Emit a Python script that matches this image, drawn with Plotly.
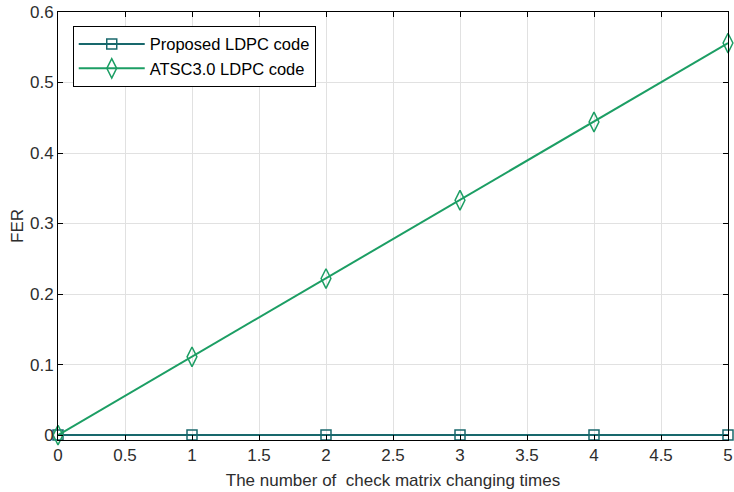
import plotly.graph_objects as go

x_times = [0, 1, 2, 3, 4, 5]
fer_proposed = [0, 0, 0, 0, 0, 0]
fer_atsc = [0, 0.111, 0.222, 0.333, 0.444, 0.556]
x_ticks = [0, 0.5, 1, 1.5, 2, 2.5, 3, 3.5, 4, 4.5, 5]
x_tick_labels = ["0", "0.5", "1", "1.5", "2", "2.5", "3", "3.5", "4", "4.5", "5"]
y_ticks = [0, 0.1, 0.2, 0.3, 0.4, 0.5, 0.6]
y_tick_labels = ["0", "0.1", "0.2", "0.3", "0.4", "0.5", "0.6"]

c_prop = "rgb(24,104,108)"
c_atsc = "rgb(28,158,100)"

fig = go.Figure()
fig.add_trace(go.Scatter(
    x=x_times, y=fer_proposed, mode="lines+markers", name="Proposed LDPC code",
    line=dict(color=c_prop, width=2),
    marker=dict(symbol="square-open", size=10, color=c_prop, line=dict(width=1.5)),
    cliponaxis=False,
))
fig.add_trace(go.Scatter(
    x=x_times, y=fer_atsc, mode="lines+markers", name="ATSC3.0 LDPC code",
    line=dict(color=c_atsc, width=2),
    marker=dict(symbol="diamond-tall-open", size=14, color=c_atsc, line=dict(width=1.5)),
    cliponaxis=False,
))

axis_common = dict(
    showline=True, linecolor="black", linewidth=1, mirror="ticks",
    ticks="inside", ticklen=5, tickcolor="black",
    showgrid=True, gridcolor="rgb(225,225,225)", gridwidth=1,
    zeroline=False, automargin=False,
    tickfont=dict(family="Liberation Sans, Arial, sans-serif", size=17, color="rgb(45,45,45)"),
)

fig.update_layout(
    width=734, height=492,
    margin=dict(l=58, r=6, t=12, b=52),
    paper_bgcolor="white", plot_bgcolor="white",
    font=dict(family="Liberation Sans, Arial, sans-serif", size=17, color="rgb(45,45,45)"),
    xaxis=dict(range=[0, 5], tickvals=x_ticks, ticktext=x_tick_labels,
               title=dict(text="The number of  check matrix changing times", standoff=9,
                          font=dict(size=17)), **axis_common),
    yaxis=dict(range=[-0.007, 0.6], tickvals=y_ticks, ticktext=y_tick_labels,
               title=dict(text="FER", standoff=2, font=dict(size=17)), **axis_common),
    legend=dict(x=0.022, y=0.968, xanchor="left", yanchor="top",
                bordercolor="black", borderwidth=1, bgcolor="white",
                font=dict(size=16.5, color="black"), tracegroupgap=0, itemwidth=66),
    showlegend=True,
)

fig.write_html("out.html", config={"displayModeBar": False},
               post_script="document.body.style.margin='0px';document.body.style.overflow='hidden';")
